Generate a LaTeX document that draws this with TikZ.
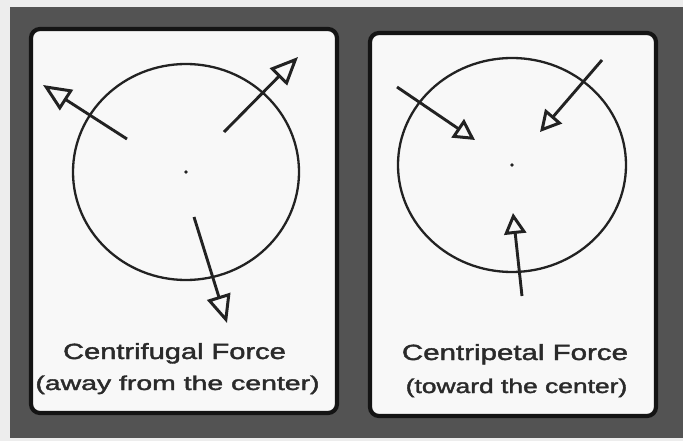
\documentclass[tikz,border=0pt]{standalone}
\usepackage{fontspec}
\setmainfont{Liberation Sans}[FakeBold=1.6]
\usepackage{graphicx}
\usetikzlibrary{arrows.meta}
\definecolor{bgdark}{HTML}{535353}
\definecolor{margin}{HTML}{EDEDED}
\definecolor{paper}{HTML}{F8F8F8}
\definecolor{ink}{HTML}{222222}
\definecolor{txt}{HTML}{2A2A2A}
\begin{document}
\begin{tikzpicture}[x=1pt,y=-1pt,
  panel/.style={draw=black!92, line width=4.2pt, fill=paper, rounded corners=9pt},
  ring/.style={draw=ink, line width=2.3pt},
  outarrow/.style={draw=ink, line width=2.9pt, -{Triangle[open, length=28pt, width=24pt, line width=3pt]}},
  inarrow/.style={draw=ink, line width=2.9pt, -{Triangle[open, length=21pt, width=22pt, line width=3pt]}},
  title/.style={anchor=base, text=txt, inner sep=0pt, font=\fontsize{22}{24}\selectfont},
  sub/.style={anchor=base, text=txt, inner sep=0pt, font=\fontsize{20}{22}\selectfont}]
\fill[margin] (0,0) rectangle (683,441);
\useasboundingbox (0,0) rectangle (683,441);
\fill[bgdark] (10,7) rectangle (683,438);
\draw[panel] (31,29) rectangle (337,413);
\draw[panel] (370,33) rectangle (656,416);
% left: centrifugal
\coordinate (c1) at (186,172);
\draw[ring] (c1) ellipse [x radius=113, y radius=108];
\fill[ink] (c1) circle [radius=1.8];
\coordinate (a1s) at (127,139); \coordinate (a1e) at (43,85);
\coordinate (a2s) at (224,132); \coordinate (a2e) at (298,57);
\coordinate (a3s) at (194,217); \coordinate (a3e) at (227,323);
\draw[outarrow] (a1s) -- (a1e);
\draw[outarrow] (a2s) -- (a2e);
\draw[outarrow] (a3s) -- (a3e);
% right: centripetal
\coordinate (c2) at (512,165);
\draw[ring] (c2) ellipse [x radius=114, y radius=107];
\fill[ink] (c2) circle [radius=1.8];
\coordinate (b1s) at (397,87); \coordinate (b1e) at (475,140);
\coordinate (b2s) at (602,60); \coordinate (b2e) at (540,132);
\coordinate (b3s) at (522,296); \coordinate (b3e) at (513,213);
\draw[inarrow] (b1s) -- (b1e);
\draw[inarrow] (b2s) -- (b2e);
\draw[inarrow] (b3s) -- (b3e);
% labels
\node[title] (t1) at (174.5,359) {\scalebox{1.32}[1]{Centrifugal Force}};
\node[sub] (s1) at (177.5,390) {\scalebox{1.42}[1]{(away from the center)}};
\node[title] (t2) at (515,360) {\scalebox{1.34}[1]{Centripetal Force}};
\node[sub] (s2) at (516.5,393) {\scalebox{1.32}[1]{(toward the center)}};
\end{tikzpicture}
\end{document}
